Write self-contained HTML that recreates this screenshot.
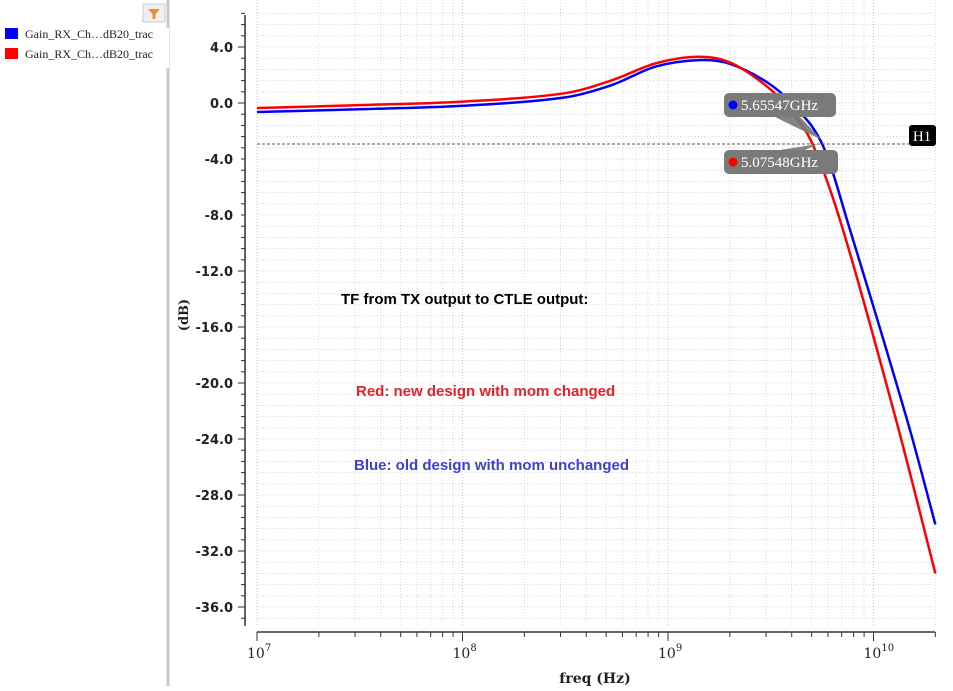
<!DOCTYPE html>
<html><head><meta charset="utf-8"><style>
body{margin:0;width:953px;height:686px;overflow:hidden;background:#fff;font-family:"Liberation Sans",sans-serif}
</style></head><body>
<svg width="953" height="686" xmlns="http://www.w3.org/2000/svg">
<rect x="0" y="0" width="167" height="686" fill="#fff"/>
<line x1="168" y1="0" x2="168" y2="686" stroke="#c8c8c8" stroke-width="3"/>
<g><rect x="143" y="4" width="22" height="18" fill="#f0f0f0" stroke="#ccc"/><path d="M148 9 L160 9 L155.5 14 L155.5 19 L152.5 19 L152.5 14 Z" fill="#e8902a"/></g>
<g><rect x="5" y="28" width="13" height="11" fill="#0000ff"/><text x="25" y="38" font-family="Liberation Serif,serif" font-size="12" fill="#222">Gain_RX_Ch…dB20_trac</text></g>
<g><rect x="5" y="48" width="13" height="11" fill="#ff0000"/><text x="25" y="58" font-family="Liberation Serif,serif" font-size="12" fill="#222">Gain_RX_Ch…dB20_trac</text></g>
<rect x="166" y="28" width="3" height="40" fill="#fff"/>
<g id="grid"></g>
<g id="axes"></g>
<g id="series"></g>
<line x1="257" y1="144" x2="909" y2="144" stroke="#555" stroke-dasharray="3,2"/>
<g><rect x="909" y="125" width="27" height="21" rx="3" fill="#000"/><text x="922" y="141" text-anchor="middle" font-family="Liberation Serif,serif" font-size="15" fill="#fff">H1</text></g>
<path d="M775 117 L800 117 L822 140 Z" fill="#777" opacity="0.9"/>
<path d="M780 150 L805 150 L818 144 Z" fill="#777" opacity="0.9"/>
<g><rect x="724" y="93" width="112" height="24" rx="5" fill="#7a7a7a"/><circle cx="733" cy="105" r="4.5" fill="#0000ff"/><text x="741" y="110" font-family="Liberation Serif,serif" font-size="15" fill="#fff">5.65547GHz</text></g>
<g><rect x="724" y="150" width="114" height="24" rx="5" fill="#7a7a7a"/><circle cx="733" cy="162" r="4.5" fill="#ff0000"/><text x="741" y="167" font-family="Liberation Serif,serif" font-size="15" fill="#fff">5.07548GHz</text></g>
<text x="341" y="304" font-size="15" font-weight="bold" fill="#000">TF from TX output to CTLE output:</text>
<text x="356" y="396" font-size="15" font-weight="bold" fill="#e8202a">Red: new design with mom changed</text>
<text x="354" y="470" font-size="15" font-weight="bold" fill="#4040d0">Blue: old design with mom unchanged</text>
<text x="188" y="315" transform="rotate(-90 188 315)" text-anchor="middle" font-family="DejaVu Serif,serif" font-weight="bold" font-size="13" fill="#222">(dB)</text>
<text x="595" y="683" text-anchor="middle" font-family="DejaVu Serif,serif" font-weight="bold" font-size="14" fill="#222">freq (Hz)</text>
</svg>
<script>
const blueFreq=[1e7,3.16e7,1e8,3.16e8,5.37e8,8.71e8,1.445e9,2e9,3.02e9,3.98e9,5.655e9,7.69e9,1.472e10,2e10];
const blueDb=[-0.64,-0.45,-0.2,0.4,1.3,2.6,3.07,2.8,1.5,0,-3,-9.07,-22.86,-30.1];
const redFreq=[1e7,3.16e7,1e8,3.16e8,5.37e8,8.71e8,1.41e9,2e9,3.02e9,3.98e9,5.075e9,7.11e9,1.3e10,2e10];
const redDb=[-0.36,-0.15,0.1,0.7,1.64,2.83,3.3,2.9,1.2,-0.6,-3,-9.07,-22.86,-33.6];
const yTicks=[4,0,-4,-8,-12,-16,-20,-24,-28,-32,-36];
const xDecades=[7,8,9,10];
const NS="http://www.w3.org/2000/svg";
const X0=257,XR=935,DEC=205.5,Y0=103,PXDB=14,YT=0,YB=627;
const xs=f=>X0+DEC*(Math.log10(f)-7);
const ys=d=>Y0-d*PXDB;
function mk(p,t,a){const e=document.createElementNS(NS,t);for(const k in a)e.setAttribute(k,a[k]);p.appendChild(e);return e;}
const grid=document.getElementById('grid'),axes=document.getElementById('axes'),series=document.getElementById('series');
for(let d=6.4;d>=-37.6;d-=0.8){const y=ys(d);if(y<YT||y>YB)continue;
const l=mk(grid,'line',{x1:X0,x2:XR,y1:y,y2:y,stroke:'#d4d4d4','stroke-dasharray':'1,2'});


const t=mk(axes,'line',{x1:Math.abs(d%4)<0.01?238:241,x2:245,y1:y,y2:y,stroke:'#333'});

}
for(let dec=7;dec<=10;dec++){for(let m=1;m<10;m++){const f=m*Math.pow(10,dec);const x=xs(f);if(x>XR+1)continue;
const l=mk(grid,'line',{x1:x,x2:x,y1:YT,y2:YB,stroke:m===1?'#c4c4c4':'#d8d8d8','stroke-dasharray':'1,2'});


const t=mk(axes,'line',{x1:x,x2:x,y1:632,y2:m===1?641:637,stroke:'#333'});

}}
let a=mk(axes,'line',{x1:245,x2:245,y1:15,y2:626,stroke:'#333','stroke-width':1.5});


a=mk(axes,'line',{x1:257,x2:XR,y1:632,y2:632,stroke:'#333','stroke-width':1.5});


yTicks.forEach(v=>{const t=mk(axes,'text',{x:233,y:ys(v)+5,'text-anchor':'end','font-family':'DejaVu Sans,sans-serif','font-weight':'bold','font-size':13,fill:'#222'});
t.textContent=v.toFixed(1);

});
xDecades.forEach(d=>{const x=xs(Math.pow(10,d));const t=mk(axes,'text',{x:x-10,y:658,'font-family':'DejaVu Serif,serif','font-size':14,fill:'#222'});
t.innerHTML='10<tspan dy="-7" font-size="10">'+d+'</tspan>';

});
function path(fr,db){const p=fr.map((f,i)=>[xs(f),ys(db[i])]);let d='M'+p[0][0]+' '+p[0][1];
for(let i=0;i<p.length-1;i++){const p0=p[Math.max(0,i-1)],p1=p[i],p2=p[i+1],p3=p[Math.min(p.length-1,i+2)];
const h=p2[0]-p1[0];
const m1=(p2[1]-p0[1])/(p2[0]-p0[0]||1),m2=(p3[1]-p1[1])/(p3[0]-p1[0]||1);
d+=' C'+(p1[0]+h/3)+' '+(p1[1]+m1*h/3)+' '+(p2[0]-h/3)+' '+(p2[1]-m2*h/3)+' '+p2[0]+' '+p2[1];}return d;}
let s=mk(series,'path',{d:path(blueFreq,blueDb),fill:'none',stroke:'#0000ff','stroke-width':2.5});


s=mk(series,'path',{d:path(redFreq,redDb),fill:'none',stroke:'#ff0000','stroke-width':2.5});


</script>
</body></html>
